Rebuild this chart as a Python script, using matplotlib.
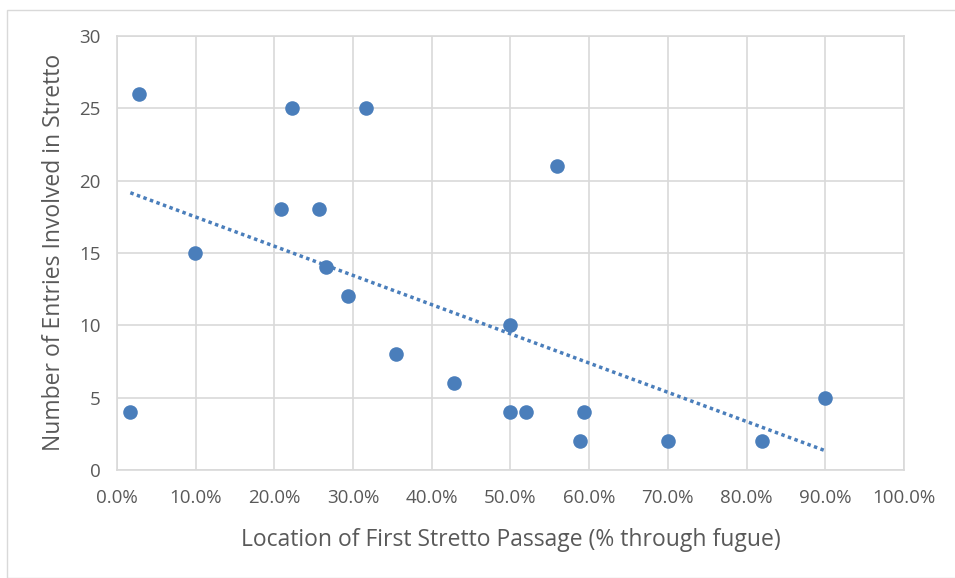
import matplotlib
matplotlib.use("Agg")
import matplotlib.pyplot as plt
import numpy as np
from matplotlib.ticker import PercentFormatter
from matplotlib.patches import Rectangle

# location of first stretto (fraction through fugue) and number of entries
location = [0.017, 0.028, 0.099, 0.208, 0.223, 0.257, 0.266, 0.294, 0.316,
            0.355, 0.428, 0.499, 0.499, 0.520, 0.559, 0.589, 0.594, 0.700,
            0.820, 0.900]
entries = [4, 26, 15, 18, 25, 18, 14, 12, 25,
           8, 6, 10, 4, 4, 21, 2, 4, 2,
           2, 5]

x_ticks = np.arange(0, 1.01, 0.1)
y_ticks = [0, 5, 10, 15, 20, 25, 30]

grey = "#595959"
blue = "#4a7ebb"

plt.rcParams['font.family'] = ['Open Sans', 'DejaVu Sans']

fig = plt.figure(figsize=(9.55, 5.78), dpi=100)
ax = fig.add_axes([0.1225, 0.187, 0.824, 0.751])

# outer chart border
fig.patches.append(Rectangle((7 / 955, 0), 1, 1 - 10 / 578, transform=fig.transFigure,
                             fill=False, edgecolor="#d9d9d9", linewidth=1))

ax.scatter(location, entries, s=110, color=blue, zorder=3, linewidths=0)

# linear trendline
slope, intercept = np.polyfit(location, entries, 1)
xs = np.array([min(location), max(location)])
ax.plot(xs, slope * xs + intercept, linestyle=(0, (1, 1)), color=blue, linewidth=2.5, zorder=2)

ax.set_xlim(0, 1)
ax.set_ylim(0, 30)
ax.set_xticks(x_ticks)
ax.set_yticks(y_ticks)
ax.xaxis.set_major_formatter(PercentFormatter(1.0, decimals=1))
ax.grid(True, color="#d9d9d9", linewidth=1.2)
ax.set_axisbelow(True)
for s in ax.spines.values():
    s.set_color("#d9d9d9")
    s.set_linewidth(1.2)
ax.tick_params(length=0, labelsize=13.5, colors=grey)
ax.tick_params(axis="x", pad=14)
ax.tick_params(axis="y", pad=12)

ax.set_xlabel("Location of First Stretto Passage (% through fugue)", fontsize=16.5, color=grey, labelpad=15)
ax.set_ylabel("Number of Entries Involved in Stretto", fontsize=16.5, color=grey, labelpad=9)

fig.savefig("out.png", dpi=100)
